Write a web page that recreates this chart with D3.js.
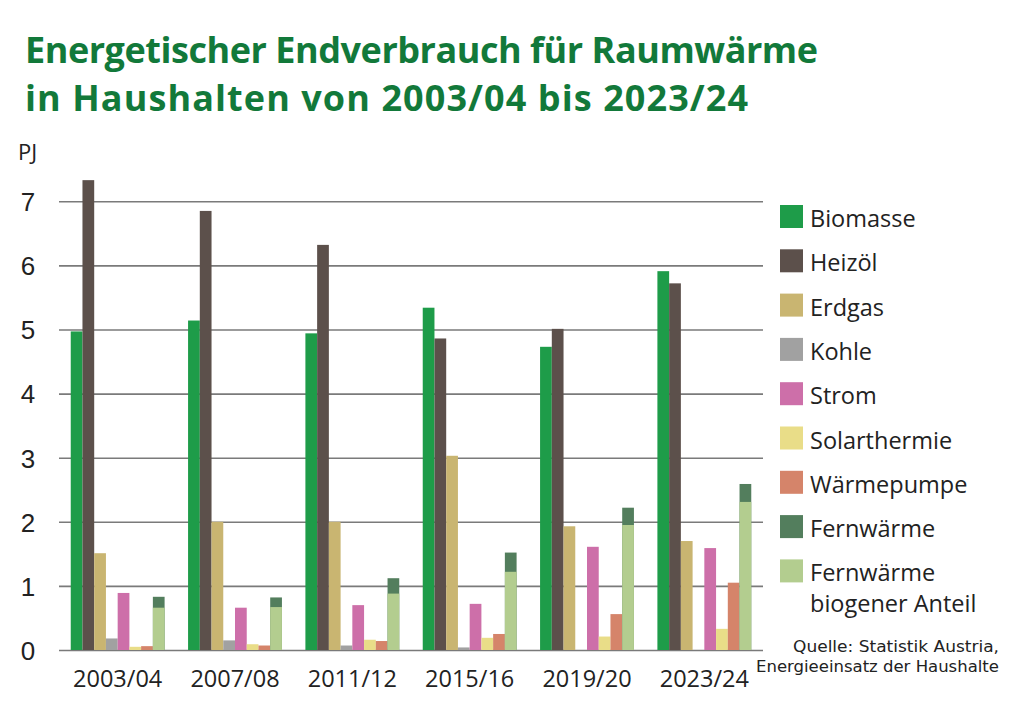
<!DOCTYPE html>
<html>
<head>
<meta charset="utf-8">
<script src="https://cdn.jsdelivr.net/npm/d3@7"></script>
<style>
  body { margin: 0; background: #fff; }
  svg { display: block; font-family: "Open Sans", "Noto Sans", sans-serif; }
</style>
</head>
<body>
<div id="chart"></div>
<script>
// Perioden
var periods = ["2003/04", "2007/08", "2011/12", "2015/16", "2019/20", "2023/24"];

// Werte in PJ
var biomasse   = [4.97, 5.14, 4.94, 5.34, 4.73, 5.91];
var heizoel    = [7.33, 6.85, 6.32, 4.86, 5.01, 5.72];
var erdgas     = [1.51, 2.00, 2.00, 3.03, 1.93, 1.70];
var kohle      = [0.18, 0.15, 0.07, 0.04, 0.00, 0.00];
var strom      = [0.89, 0.66, 0.70, 0.72, 1.61, 1.59];
var solar      = [0.05, 0.09, 0.16, 0.19, 0.21, 0.33];
var waermep    = [0.06, 0.07, 0.14, 0.25, 0.56, 1.05];
var fernwaerme = [0.83, 0.82, 1.12, 1.52, 2.22, 2.59];
var fwBiogen   = [0.66, 0.67, 0.88, 1.22, 1.95, 2.31];

var yTicks = [0, 1, 2, 3, 4, 5, 6, 7];

var legendNames = ["Biomasse", "Heizöl", "Erdgas", "Kohle", "Strom",
                   "Solarthermie", "Wärmepumpe", "Fernwärme", "Fernwärme|biogener Anteil"];
var legendColors = ["#1e9c49", "#5c504b", "#c9b571", "#a1a1a1", "#cd6fa9",
                    "#e9dd88", "#d5846a", "#537e5d", "#b3cd8f"];

var svg = d3.select("#chart").append("svg")
            .attr("width", 1024)
            .attr("height", 703);

var x = d3.scaleBand().domain(periods).range([59, 763])
          .paddingInner(0.2).paddingOuter(0.1);

var y = d3.scaleLinear().domain([0, 7]).range([650, 201.3]);

// series in order of bars inside a group (Fernwärme stacked at the end)
var series = ["bio", "oel", "gas", "kohle", "strom", "solar", "wp", "fw"];
var seriesData = {bio: biomasse, oel: heizoel, gas: erdgas, kohle: kohle,
                  strom: strom, solar: solar, wp: waermep, fw: fernwaerme};
var seriesColor = {};
series.forEach(function(s, i){ seriesColor[s] = legendColors[i]; });

var xs = d3.scaleBand().domain(series).range([0, x.bandwidth()]);

// title
var title = svg.append("g")
   .attr("fill", "#12793a")
   .attr("font-weight", "bold")
   .attr("font-size", 36);

title.append("text")
   .attr("x", 25).attr("y", 63)
   .attr("textLength", 793).attr("lengthAdjust", "spacing")
   .text("Energetischer Endverbrauch für Raumwärme");

title.append("text")
   .attr("x", 25).attr("y", 111)
   .attr("textLength", 723).attr("lengthAdjust", "spacing")
   .text("in Haushalten von 2003/04 bis 2023/24");

// unit
svg.append("text")
   .attr("x", 18).attr("y", 160)
   .attr("font-size", 22)
   .attr("fill", "#222")
   .text("PJ");

// grid lines + y labels
var yAxis = svg.append("g")
   .attr("transform", "translate(59,0)")
   .call(d3.axisLeft(y).tickValues(yTicks).tickSize(-704).tickFormat(d3.format("d")));

yAxis.select(".domain").remove();
yAxis.selectAll(".tick line")
   .attr("stroke", "#7a7a7a")
   .attr("stroke-width", 1.6);
yAxis.selectAll(".tick text")
   .attr("x", -31)
   .attr("dy", "0.36em")
   .attr("text-anchor", "middle")
   .attr("font-size", 26)
   .attr("fill", "#222");

// bars
var groups = svg.append("g").selectAll("g")
   .data(periods)
   .join("g")
   .attr("transform", function(d){ return "translate(" + x(d) + ",0)"; });

groups.selectAll("rect.bar")
   .data(function(d, i){
      return series.map(function(s){ return {s: s, v: seriesData[s][i]}; });
   })
   .join("rect")
   .attr("class", "bar")
   .attr("x", function(d){ return xs(d.s); })
   .attr("width", xs.bandwidth())
   .attr("y", function(d){ return y(d.v); })
   .attr("height", function(d){ return y(0) - y(d.v); })
   .attr("fill", function(d){ return seriesColor[d.s]; });

// biogener Anteil der Fernwärme
groups.append("rect")
   .attr("x", xs("fw"))
   .attr("width", xs.bandwidth())
   .attr("y", function(d, i){ return y(fwBiogen[i]); })
   .attr("height", function(d, i){ return y(0) - y(fwBiogen[i]); })
   .attr("fill", legendColors[8]);

// x labels
svg.append("g").selectAll("text")
   .data(periods)
   .join("text")
   .attr("x", function(d){ return x(d) + x.bandwidth() / 2; })
   .attr("y", 687)
   .attr("text-anchor", "middle")
   .attr("font-size", 23.5)
   .attr("fill", "#222")
   .text(function(d){ return d; });

// legend
var legend = svg.append("g").selectAll("g")
   .data(legendNames)
   .join("g")
   .attr("transform", function(d, i){ return "translate(780," + (205 + i * 44.3) + ")"; });

legend.append("rect")
   .attr("width", 23).attr("height", 23)
   .attr("fill", function(d, i){ return legendColors[i]; });

legend.append("text")
   .attr("x", 30).attr("y", 22)
   .attr("font-size", 23.5)
   .attr("fill", "#222")
   .selectAll("tspan")
   .data(function(d){ return d.split("|"); })
   .join("tspan")
   .attr("x", 30)
   .attr("dy", function(d, i){ return i ? 31 : 0; })
   .text(function(d){ return d; });

// source
var src = svg.append("g")
   .attr("font-family", "'DejaVu Sans', sans-serif")
   .attr("font-size", 15.5)
   .attr("fill", "#222");
src.append("text").attr("x", 793).attr("y", 652)
   .attr("textLength", 206).attr("lengthAdjust", "spacingAndGlyphs")
   .text("Quelle: Statistik Austria,");
src.append("text").attr("x", 756).attr("y", 672)
   .attr("textLength", 243).attr("lengthAdjust", "spacingAndGlyphs")
   .text("Energieeinsatz der Haushalte");
</script>
</body>
</html>
